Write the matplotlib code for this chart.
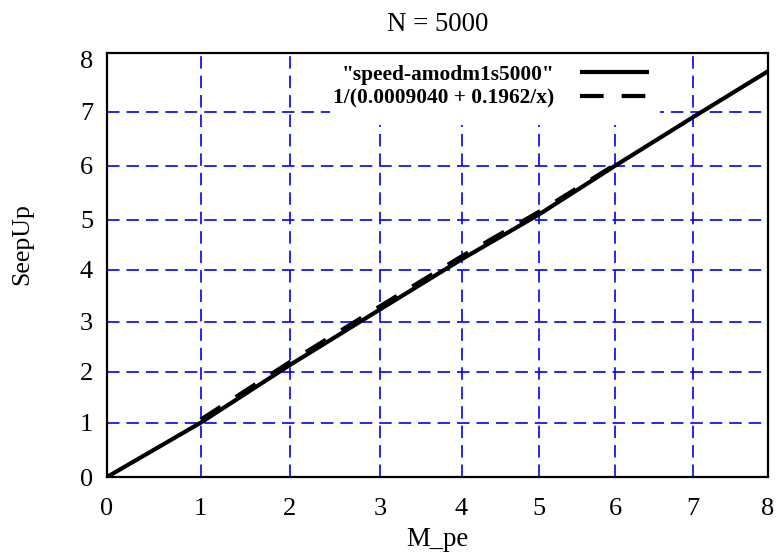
import numpy as np
import matplotlib
matplotlib.use("Agg")
import matplotlib.pyplot as plt
from matplotlib.patches import Rectangle

# ---- data ----
title = "N = 5000"
x_label = "M_pe"
y_label = "SeepUp"
series_label = '"speed-amodm1s5000"'
fit_label = "1/(0.0009040 + 0.1962/x)"
x_speed = [0, 1, 2, 3, 4, 5, 6, 7, 8]
speedup = [0, 1.0, 2.14, 3.24, 4.21, 5.1, 6.0, 6.9, 7.78]
fit_x = [1, 2, 3, 4, 5, 6]
fit_y = [1.06, 2.2, 3.3, 4.27, 5.15, 6.02]
x_ticks = [0, 1, 2, 3, 4, 5, 6, 7, 8]
y_ticks = [0, 1, 2, 3, 4, 5, 6, 7, 8]

# ---- axis warp (the reference image's scales are slightly non-uniform) ----
XK = [0, 1, 2, 3, 4, 5, 6, 7, 8]
XP = [0, 93.7, 183, 273, 354.5, 432, 508, 586, 661]
YK = [0, 1, 2, 3, 4, 5, 6, 7, 8, 9]
YP = [0, 54.3, 105, 155, 207, 257, 311, 365, 417, 469]

def xf(v):
    return np.interp(v, XK, XP)
def xi(v):
    return np.interp(v, XP, XK)
def yf(v):
    return np.interp(v, YK, YP)
def yi(v):
    return np.interp(v, YP, YK)

plt.rcParams['font.family'] = ['Liberation Serif', 'DejaVu Serif']
plt.rcParams['lines.scale_dashes'] = False

fig = plt.figure(figsize=(7.76, 5.57), dpi=100)
ax = fig.add_axes([107/776, 1-477/557, 661/776, 424/557])
ax.set_xscale('function', functions=(xf, xi))
ax.set_yscale('function', functions=(yf, yi))
ax.set_xlim(0, 8)
ax.set_ylim(0, 8.13)

# grid (inner lines only, as in the reference)
grid_kw = dict(color=(0, 0, 1), linestyle=(0, (9, 5)), linewidth=1.2, zorder=0.5)
for v in x_ticks[1:-1]:
    ax.axvline(v, **grid_kw)
for v in y_ticks[1:-1]:
    ax.axhline(v, **grid_kw)

# key background that interrupts the grid (as gnuplot does)
ax.add_patch(Rectangle((0.337, 0.830), 0.5, 0.2, transform=ax.transAxes,
                       facecolor='white', edgecolor='none', zorder=1))

ax.plot(x_speed, speedup, color='black', linewidth=3, solid_capstyle='butt',
        label=series_label, zorder=3)
ax.plot(fit_x, fit_y, color='black', linewidth=3, linestyle=(0, (17, 13)),
        dash_capstyle='butt', label=fit_label, zorder=3)

ax.set_xticks(x_ticks)
ax.set_yticks(y_ticks)
ax.set_xticklabels([str(t) for t in x_ticks])
ax.set_yticklabels([str(t) for t in y_ticks])
ax.tick_params(axis='both', length=0, labelsize=19)
ax.tick_params(axis='x', pad=15)
ax.tick_params(axis='y', pad=10)
ax.minorticks_off()

for s in ax.spines.values():
    s.set_linewidth(1.6)
    s.set_zorder(4)

ax.set_title(title, fontsize=19.3, pad=16)
ax.set_xlabel(x_label, fontsize=19.3, labelpad=5)
ax.set_ylabel(y_label, fontsize=18.5)
ax.yaxis.set_label_coords(-0.112, 0.55)

leg = ax.legend(loc='upper left', bbox_to_anchor=(0.326, 0.998), frameon=False,
                markerfirst=False, borderpad=0, handlelength=3.2,
                handletextpad=1.2, labelspacing=0.2,
                prop={'family': 'Liberation Serif', 'weight': 'bold', 'size': 15.4})

fig.savefig("out.png", dpi=100)
